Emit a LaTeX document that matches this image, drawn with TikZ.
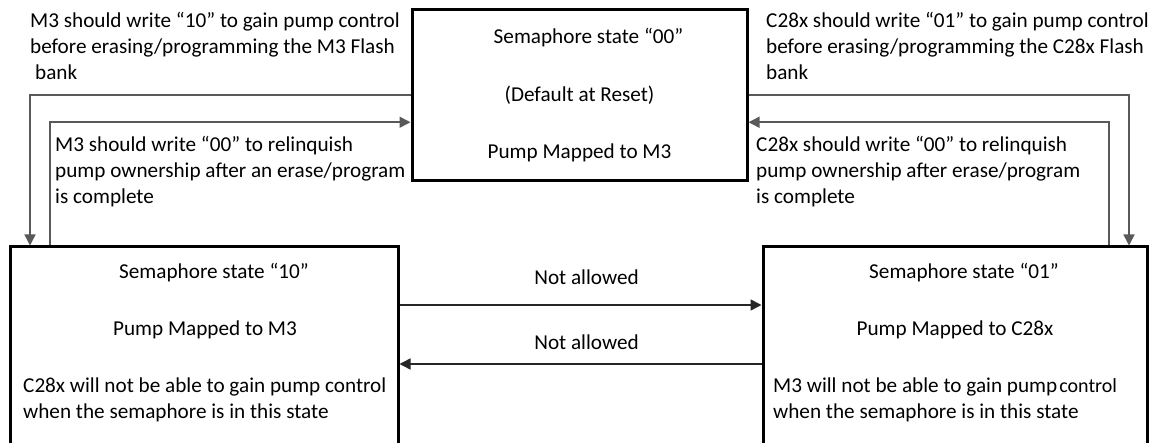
\documentclass[tikz,border=0pt]{standalone}
\usepackage{fontspec}
\setmainfont{Carlito}
\usepackage{tikz}
\usetikzlibrary{positioning}
\usetikzlibrary{arrows.meta}

\newcommand{\semstate}[1]{\hspace*{18pt}Semaphore state “#1”}

\begin{document}
\begin{tikzpicture}[x=1pt, y=-1pt,
  txt/.style={inner sep=0pt, font=\fontsize{21.2pt}{25.9pt}\selectfont},
  statebox/.style={draw, line width=3pt, inner sep=0pt},
  wire/.style={draw=black!65, line width=1.5pt, -{Triangle[length=11pt, width=11pt]}},
  bar/.style={draw=black!85, line width=1.5pt, -{Triangle[length=11pt, width=11pt]}}]

\useasboundingbox (0,0) rectangle (1153,443);
\clip (0,0) rectangle (1153,443);

% state boxes
\node[statebox, txt, align=center, minimum width=335pt, minimum height=171.5pt] (s00) at (579.5,95.25)
  {\semstate{00}\\[31.6pt] (Default at Reset)\\[31.6pt] Pump Mapped to M3};
\node[statebox, minimum width=388pt, minimum height=240pt] (s10) at (204,367) {};
\node[statebox, minimum width=384pt, minimum height=240pt] (s01) at (955,367) {};

% texts in the lower boxes
\node[txt, align=center, anchor=north] (s10head) at (205,263.4) {\semstate{10}\\[31pt] Pump Mapped to M3};
\node[txt, align=left, anchor=north west] (s10note) at (23,377.4)
  {C28x will not be able to gain pump control\\ when the semaphore is in this state};
\node[txt, align=center, anchor=north] (s01head) at (955,263.4) {\semstate{01}\\[31pt] Pump Mapped to C28x};
\node[txt, align=left, anchor=north west] (s01note) at (773,377.4)
  {M3 will not be able to gain pump\kern2pt{\fontsize{20pt}{25.9pt}\selectfont control}\\ when the semaphore is in this state};

% labels of the transitions
\node[txt, align=left, anchor=north west] (m3gain) at (30,12.4)
  {M3 should write “10” to gain pump control\\ before erasing/programming the M3 Flash\\ \hspace*{5pt}bank};
\node[txt, align=left, anchor=north west] (c28gain) at (766,12.4)
  {C28x should write “01” to gain pump control\\ before erasing/programming the C28x Flash\\ bank};
\node[txt, align=left, anchor=north west] (m3free) at (55,136.4)
  {M3 should write “00” to relinquish\\ pump ownership after an erase/program\\ is complete};
\node[txt, align=left, anchor=north west] (c28free) at (756,136.4)
  {C28x should write “00” to relinquish\\ pump ownership after erase/program\\ is complete};

% transitions
\draw[wire] (s00.west) -| ([xshift=21.5pt]s10.north west);
\draw[wire] ([xshift=41.5pt]s10.north west) |- ([yshift=-27pt]s00.west);
\draw[wire] (s00.east) -| ([xshift=-19.5pt]s01.north east);
\draw[wire] ([xshift=-39.5pt]s01.north east) |- ([yshift=-27pt]s00.east);

\draw[bar] ([yshift=-59.5pt]s10.north east) -- ([yshift=-59.5pt]s01.north west)
  node[txt, midway, above=20pt, xshift=6pt] (na1) {Not allowed};
\draw[bar] ([yshift=-118.5pt]s01.north west) -- ([yshift=-118.5pt]s10.north east)
  node[txt, midway, above=14pt, xshift=6pt] (na2) {Not allowed};

\end{tikzpicture}
\end{document}
